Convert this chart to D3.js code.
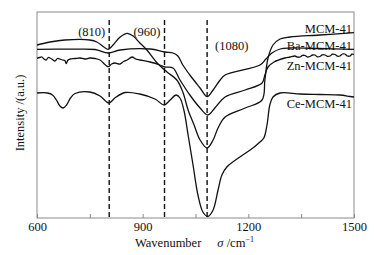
<!DOCTYPE html>
<html>
<head>
<meta charset="utf-8">
<script src="https://cdn.jsdelivr.net/npm/d3@7"></script>
<style>
  body { margin: 0; background: #fff; }
  svg text { font-family: "Liberation Serif", "DejaVu Serif", serif; fill: #111; }
</style>
</head>
<body>
<svg id="chart"></svg>
<script>
// spectra: [wavenumber, intensity (arbitrary)]
var mcm = [[600,173],[637,176],[679,178],[750,178],[770,176],[790,171],[802,168.7],[816,173],[836,181],
  [856,184.7],[873,182],[892,175],[912,168],[941,155],[969,146],[997,138],[1014,126],[1029,108],[1046,93],
  [1063,78],[1083,70],[1100,78],[1114,90],[1134,101],[1191,110],[1239,118],[1247,138],[1256,160],[1270,173],
  [1290,179],[1318,181],[1403,183],[1500,185.3]];
var ba = [[600,168.7],[700,168.8],[765,168.5],[802,165],[836,168],[921,169],[963,166],[986,165],[1000,162],
  [1014,153],[1034,143],[1063,130],[1083,121.3],[1100,128],[1120,138],[1134,143],[1233,153],[1250,159],
  [1267,165],[1290,169],[1318,170],[1400,169.5],[1500,168.7]];
var zn = [[600,159.7],[607,160.5],[614,161],[620,159],[626,158],[632,160.5],[637,160],[644,158.5],[651,157],
  [658,159.5],[665,159],[672,158],[679,157.5],[683,154.5],[688,158],[694,159],[708,159.5],[722,160],[736,159],
  [750,160],[765,159.5],[779,158],[802,151.3],[812,154],[821,155],[836,154],[846,156.5],[856,158],[870,161],
  [880,159],[892,158],[921,156],[949,153],[963,151],[986,150],[1006,138],[1034,123],[1063,110],[1085,103],
  [1105,110],[1134,121],[1191,128],[1239,135],[1247,143],[1256,151],[1273,156],[1304,160],[1318,161],[1332,162],
  [1340,160.8],[1347,161],[1354,162.6],[1361,162.5],[1368,161],[1375,161.5],[1382,163],[1389,163],[1396,161.2],
  [1403,161.5],[1410,163.2],[1418,163],[1425,161.6],[1432,162],[1439,163.8],[1446,163.5],[1453,161.8],
  [1460,162],[1467,164],[1474,164],[1481,162],[1489,162],[1494,163.8],[1500,163.5]];
var ce = [[600,125],[630,125],[644,123],[655,118],[665,112],[674,110],[684,113],[695,120],[708,124.5],
  [750,126],[779,122],[804,115],[821,120],[850,125.5],[892,124],[935,119],[961,113],[978,118],[995,123],[1006,120],
  [1017,108],[1029,83],[1043,53],[1057,23],[1071,6],[1085,1.5],[1100,8],[1114,28],[1125,43],[1139,51],
  [1176,61],[1213,70],[1233,76],[1244,80],[1253,93],[1261,113],[1270,121],[1290,125],[1347,124],[1403,123.5],
  [1460,123],[1489,121.5],[1500,121]];
var series = [mcm, ba, zn, ce];

var seriesNames = ['MCM-41', 'Ba-MCM-41', 'Zn-MCM-41', 'Ce-MCM-41'];
var nameY = [185, 168.5, 148, 110];   // label baseline level, in intensity units

var peaks = [805, 962, 1083];
var peakLabels = ['(810)', '(960)', '(1080)'];
var peakLabelY = [182, 182, 168];

var xTicks = [600, 750, 900, 1050, 1200, 1350, 1500];
var xLabels = [600, 900, 1200, 1500];

var margin = { top: 12, right: 20, bottom: 37, left: 37 };
var width = 374 - margin.left - margin.right,
    height = 255 - margin.top - margin.bottom;

var x = d3.scaleLinear().domain([600, 1500]).range([0, width]);
var y = d3.scaleLinear().domain([0, 206]).range([height, 0]);

var svg = d3.select("#chart")
  .attr("width", width + margin.left + margin.right)
  .attr("height", height + margin.top + margin.bottom)
  .append("g")
  .attr("transform", "translate(" + margin.left + "," + margin.top + ")");

// frame
svg.append("rect")
  .attr("width", width).attr("height", height)
  .attr("fill", "none").attr("stroke", "#8a8a8a").attr("stroke-width", 1);

// inward ticks on bottom axis
var xAxis = d3.axisBottom(x)
  .tickValues(xTicks)
  .tickSizeInner(-4).tickSizeOuter(0)
  .tickFormat(function (d) { return xLabels.indexOf(d) >= 0 ? d : ''; });

var gx = svg.append("g")
  .attr("transform", "translate(0," + height + ")")
  .call(xAxis);
gx.select(".domain").remove();
gx.selectAll(".tick line").attr("stroke", "#8a8a8a");
gx.selectAll(".tick text")
  .attr("y", 4)
  .style("font-family", "'Liberation Serif', serif")
  .style("font-size", "12.5px")
  .attr("fill", "#111");

// dashed reference lines
svg.selectAll(".peak")
  .data(peaks)
  .enter()
  .append("line")
  .attr("x1", function (d) { return x(d); })
  .attr("x2", function (d) { return x(d); })
  .attr("y1", 8)
  .attr("y2", height)
  .attr("stroke", "#111")
  .attr("stroke-width", 1.4)
  .attr("stroke-dasharray", "5,3");

svg.selectAll(".plabel")
  .data(peakLabels)
  .enter()
  .append("text")
  .attr("x", function (d, i) { return x(peaks[i]) - 4; })
  .attr("y", function (d, i) { return y(peakLabelY[i]); })
  .attr("text-anchor", function (d, i) { return i < 2 ? "end" : "start"; })
  .attr("dx", function (d, i) { return i < 2 ? 0 : 12; })
  .style("font-size", "12.5px")
  .text(function (d) { return d; });

var line = d3.line()
  .x(function (d) { return x(d[0]); })
  .y(function (d) { return y(d[1]); })
  .curve(d3.curveCatmullRom.alpha(0.5));

svg.selectAll(".spec")
  .data(series)
  .enter()
  .append("path")
  .attr("d", line)
  .attr("fill", "none")
  .attr("stroke", "#111")
  .attr("stroke-width", 1.3);

svg.selectAll(".sname")
  .data(seriesNames)
  .enter()
  .append("text")
  .attr("x", width - 2)
  .attr("y", function (d, i) { return y(nameY[i]); })
  .attr("text-anchor", "end")
  .style("font-size", "12.5px")
  .text(function (d) { return d; });

// axis titles
var xt = svg.append("text")
  .attr("x", 98)
  .attr("y", height + 29)
  .style("font-size", "12.5px");
xt.append("tspan").text("Wavenumber");
xt.append("tspan").attr("dx", 16).style("font-style", "italic").text("σ");
xt.append("tspan").text(" /cm");
xt.append("tspan").attr("dy", -5).style("font-size", "8px").text("−1");

svg.append("text")
  .attr("transform", "translate(-13," + (height / 2 - 2) + ") rotate(-90)")
  .attr("text-anchor", "middle")
  .style("font-size", "12.5px")
  .text("Intensity /(a.u.)");
</script>
</body>
</html>
